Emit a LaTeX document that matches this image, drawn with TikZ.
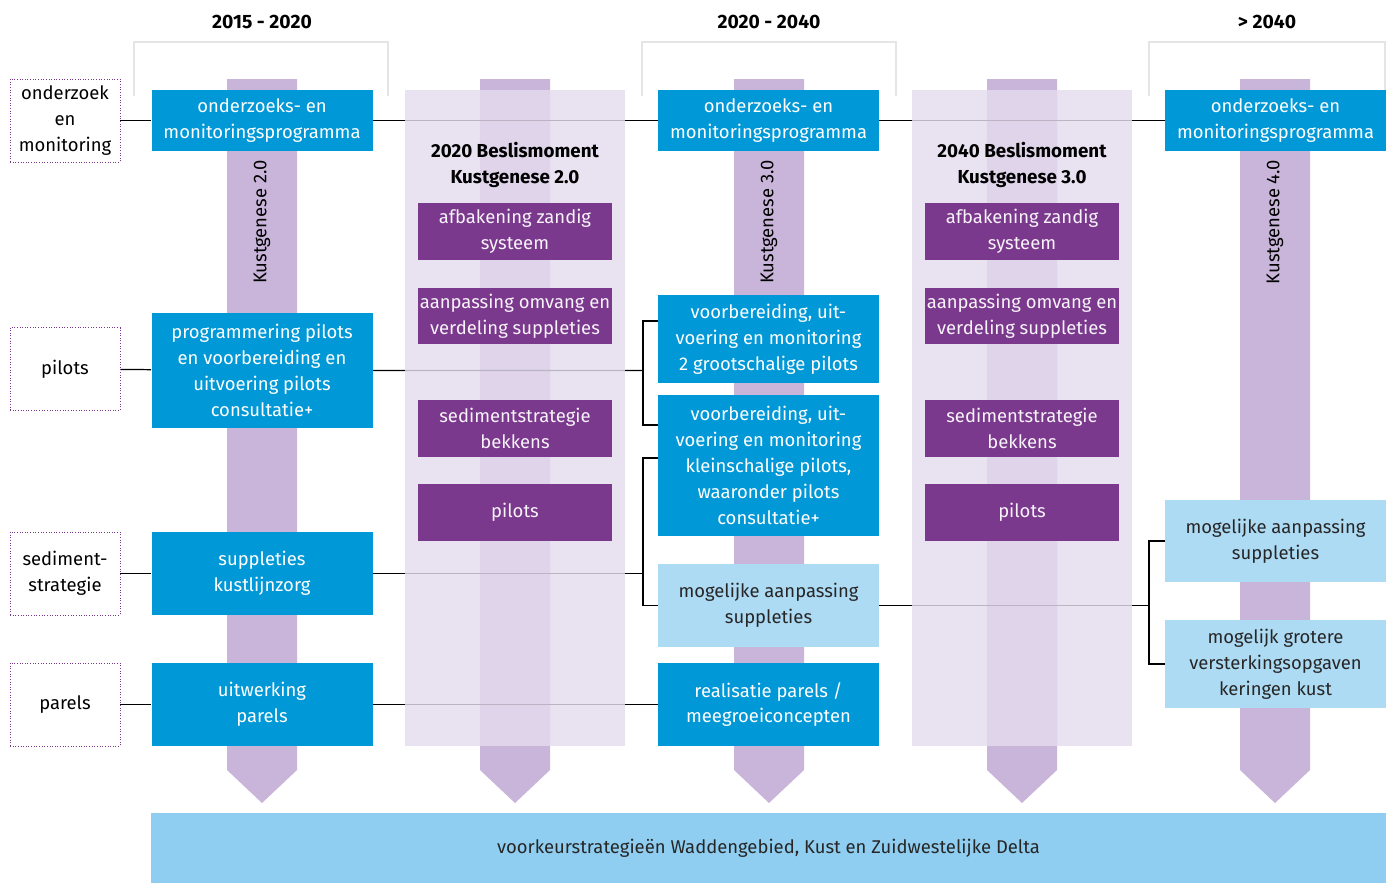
\documentclass[tikz,border=0pt]{standalone}
\usepackage{fontspec}
\setmainfont{Fira Sans}
\usetikzlibrary{calc}
\pgfdeclarelayer{back}
\pgfdeclarelayer{mid}
\pgfsetlayers{back,mid,main}
\definecolor{kblue}{RGB}{0,152,214}
\definecolor{klight}{RGB}{174,219,244}
\definecolor{kbar}{RGB}{143,206,240}
\definecolor{kpurple}{RGB}{123,57,142}
\definecolor{karrow}{RGB}{201,181,217}
\definecolor{kpanel}{RGB}{228,220,238}
\def\px{0.02cm}
\tikzset{
  every node/.style={font=\fontsize{10.5}{14.7}\selectfont, align=center, inner sep=0pt},
  bluebox/.style={fill=kblue, text=white, minimum width=221*\px},
  lightbox/.style={fill=klight, text=black!85, minimum width=221*\px},
  purplebox/.style={fill=kpurple, text=white!94!kpurple, minimum width=194*\px},
  themebox/.style={draw=kpurple, densely dotted, line width=0.5pt, minimum width=110*\px, minimum height=83*\px},
  link/.style={line width=0.7pt, black},
  yearlabel/.style={font=\fontsize{11}{14.7}\selectfont\bfseries},
  momentlabel/.style={font=\fontsize{10.7}{14.7}\selectfont\bfseries},
}
\begin{document}
\begin{tikzpicture}[x=0.02cm, y=-0.02cm]
\useasboundingbox (0,0) rectangle (1391,883);

% arrows per period
\begin{pgfonlayer}{back}
\foreach \c in {262,515,769,1022,1275}
  \fill[karrow] (\c-35,79) -- (\c+35,79) -- (\c+35,770) -- (\c,803) -- (\c-35,770) -- cycle;
\end{pgfonlayer}

% year headers and brackets
\node[yearlabel] (yA) at (262,22) {2015 - 2020};
\node[yearlabel] (yB) at (769,22) {2020 - 2040};
\node[yearlabel] (yC) at (1267,22) {> 2040};
\foreach \l/\r in {134/388, 642/896, 1149/1385}
  \draw[black!10, line width=1.2pt] (\l,96) -- (\l,42) -- (\r,42) -- (\r,96);

% beslismoment panels
\begin{pgfonlayer}{mid}
\fill[kpanel, fill opacity=0.82] (405,90) rectangle (625,746);
\fill[kpanel, fill opacity=0.82] (912,90) rectangle (1132,746);
\end{pgfonlayer}

% themes
\node[themebox] (lOnder) at (65,120.5) {onderzoek\\en\\monitoring};
\node[themebox] (lPil) at (65,369) {pilots};
\node[themebox] (lSed) at (65,573.5) {sediment-\\strategie};
\node[themebox] (lPar) at (65,704.5) {parels};

% 2015 - 2020
\node[bluebox, minimum height=61*\px] (onderA) at (262,120.5) {onderzoeks- en\\monitoringsprogramma};
\node[bluebox, minimum height=115*\px] (progA) at (262,370.5) {programmering pilots\\en voorbereiding en\\uitvoering pilots\\consultatie+};
\node[bluebox, minimum height=83*\px] (supplA) at (262,573.5) {suppleties\\kustlijnzorg};
\node[bluebox, minimum height=83*\px] (uitwA) at (262,704.5) {uitwerking\\parels};
\node[rotate=90] (kgA) at (262,222) {Kustgenese 2.0};

% 2020 beslismoment
\node[momentlabel] (besA) at (515,165) {2020 Beslismoment\\Kustgenese 2.0};
\node[purplebox, minimum height=57*\px] (afbA) at (515,231.5) {afbakening zandig\\systeem};
\node[purplebox, minimum height=56*\px] (aanA) at (515,316) {aanpassing omvang en\\verdeling suppleties};
\node[purplebox, minimum height=57*\px] (sedA) at (515,428.5) {sedimentstrategie\\bekkens};
\node[purplebox, minimum height=57*\px] (pilA) at (515,512.5) {pilots};

% 2020 - 2040
\node[bluebox, minimum height=61*\px] (onderB) at (768.5,120.5) {onderzoeks- en\\monitoringsprogramma};
\node[bluebox, minimum height=88*\px] (voorA) at (768.5,339) {voorbereiding, uit-\\voering en monitoring\\2 grootschalige pilots};
\node[bluebox, minimum height=141*\px] (voorB) at (768.5,465.5) {voorbereiding, uit-\\voering en monitoring\\kleinschalige pilots,\\waaronder pilots\\consultatie+};
\node[lightbox, minimum height=83*\px] (mogB) at (768.5,605.5) {mogelijke aanpassing\\suppleties};
\node[bluebox, minimum height=83*\px] (realB) at (768.5,704.5) {realisatie parels /\\meegroeiconcepten};
\node[rotate=90] (kgB) at (769,222) {Kustgenese 3.0};

% 2040 beslismoment
\node[momentlabel] (besB) at (1022,165) {2040 Beslismoment\\Kustgenese 3.0};
\node[purplebox, minimum height=57*\px] (afbB) at (1022,231.5) {afbakening zandig\\systeem};
\node[purplebox, minimum height=56*\px] (aanB) at (1022,316) {aanpassing omvang en\\verdeling suppleties};
\node[purplebox, minimum height=57*\px] (sedB) at (1022,428.5) {sedimentstrategie\\bekkens};
\node[purplebox, minimum height=57*\px] (pilB) at (1022,512.5) {pilots};

% > 2040
\node[bluebox, minimum height=61*\px] (onderC) at (1275.5,120.5) {onderzoeks- en\\monitoringsprogramma};
\node[lightbox, minimum height=82*\px] (mogC) at (1275.5,541) {mogelijke aanpassing\\suppleties};
\node[lightbox, minimum height=88*\px] (grotC) at (1275.5,664) {mogelijk grotere\\versterkingsopgaven\\keringen kust};
\node[rotate=90] (kgC) at (1275,222) {Kustgenese 4.0};

% voorkeurstrategieen
\node[fill=kbar, text=black!85, minimum width=1235*\px, minimum height=70*\px] (vks) at (768.5,848) {voorkeurstrategieën Waddengebied, Kust en Zuidwestelijke Delta};

% connectors
\coordinate (splitP) at (643,370.5);
\coordinate (splitS) at (643,573.5);
\coordinate (splitM) at (1149,605.5);
\begin{pgfonlayer}{back}
\draw[link] (lOnder) -- (onderA) -- (onderB) -- (onderC);
\draw[link] (lPil) -- (progA) -- (splitP);
\draw[link] (voorA.west |- 0,321) -| (splitP) |- (voorB.west |- 0,425);
\draw[link] (lSed) -- (supplA) -- (splitS);
\draw[link] (voorB.west |- 0,458) -| (splitS) |- (mogB.west);
\draw[link] (mogB) -- (splitM);
\draw[link] (mogC.west) -| (splitM) |- (grotC.west);
\draw[link] (lPar) -- (uitwA) -- (realB);
\end{pgfonlayer}
\end{tikzpicture}
\end{document}
